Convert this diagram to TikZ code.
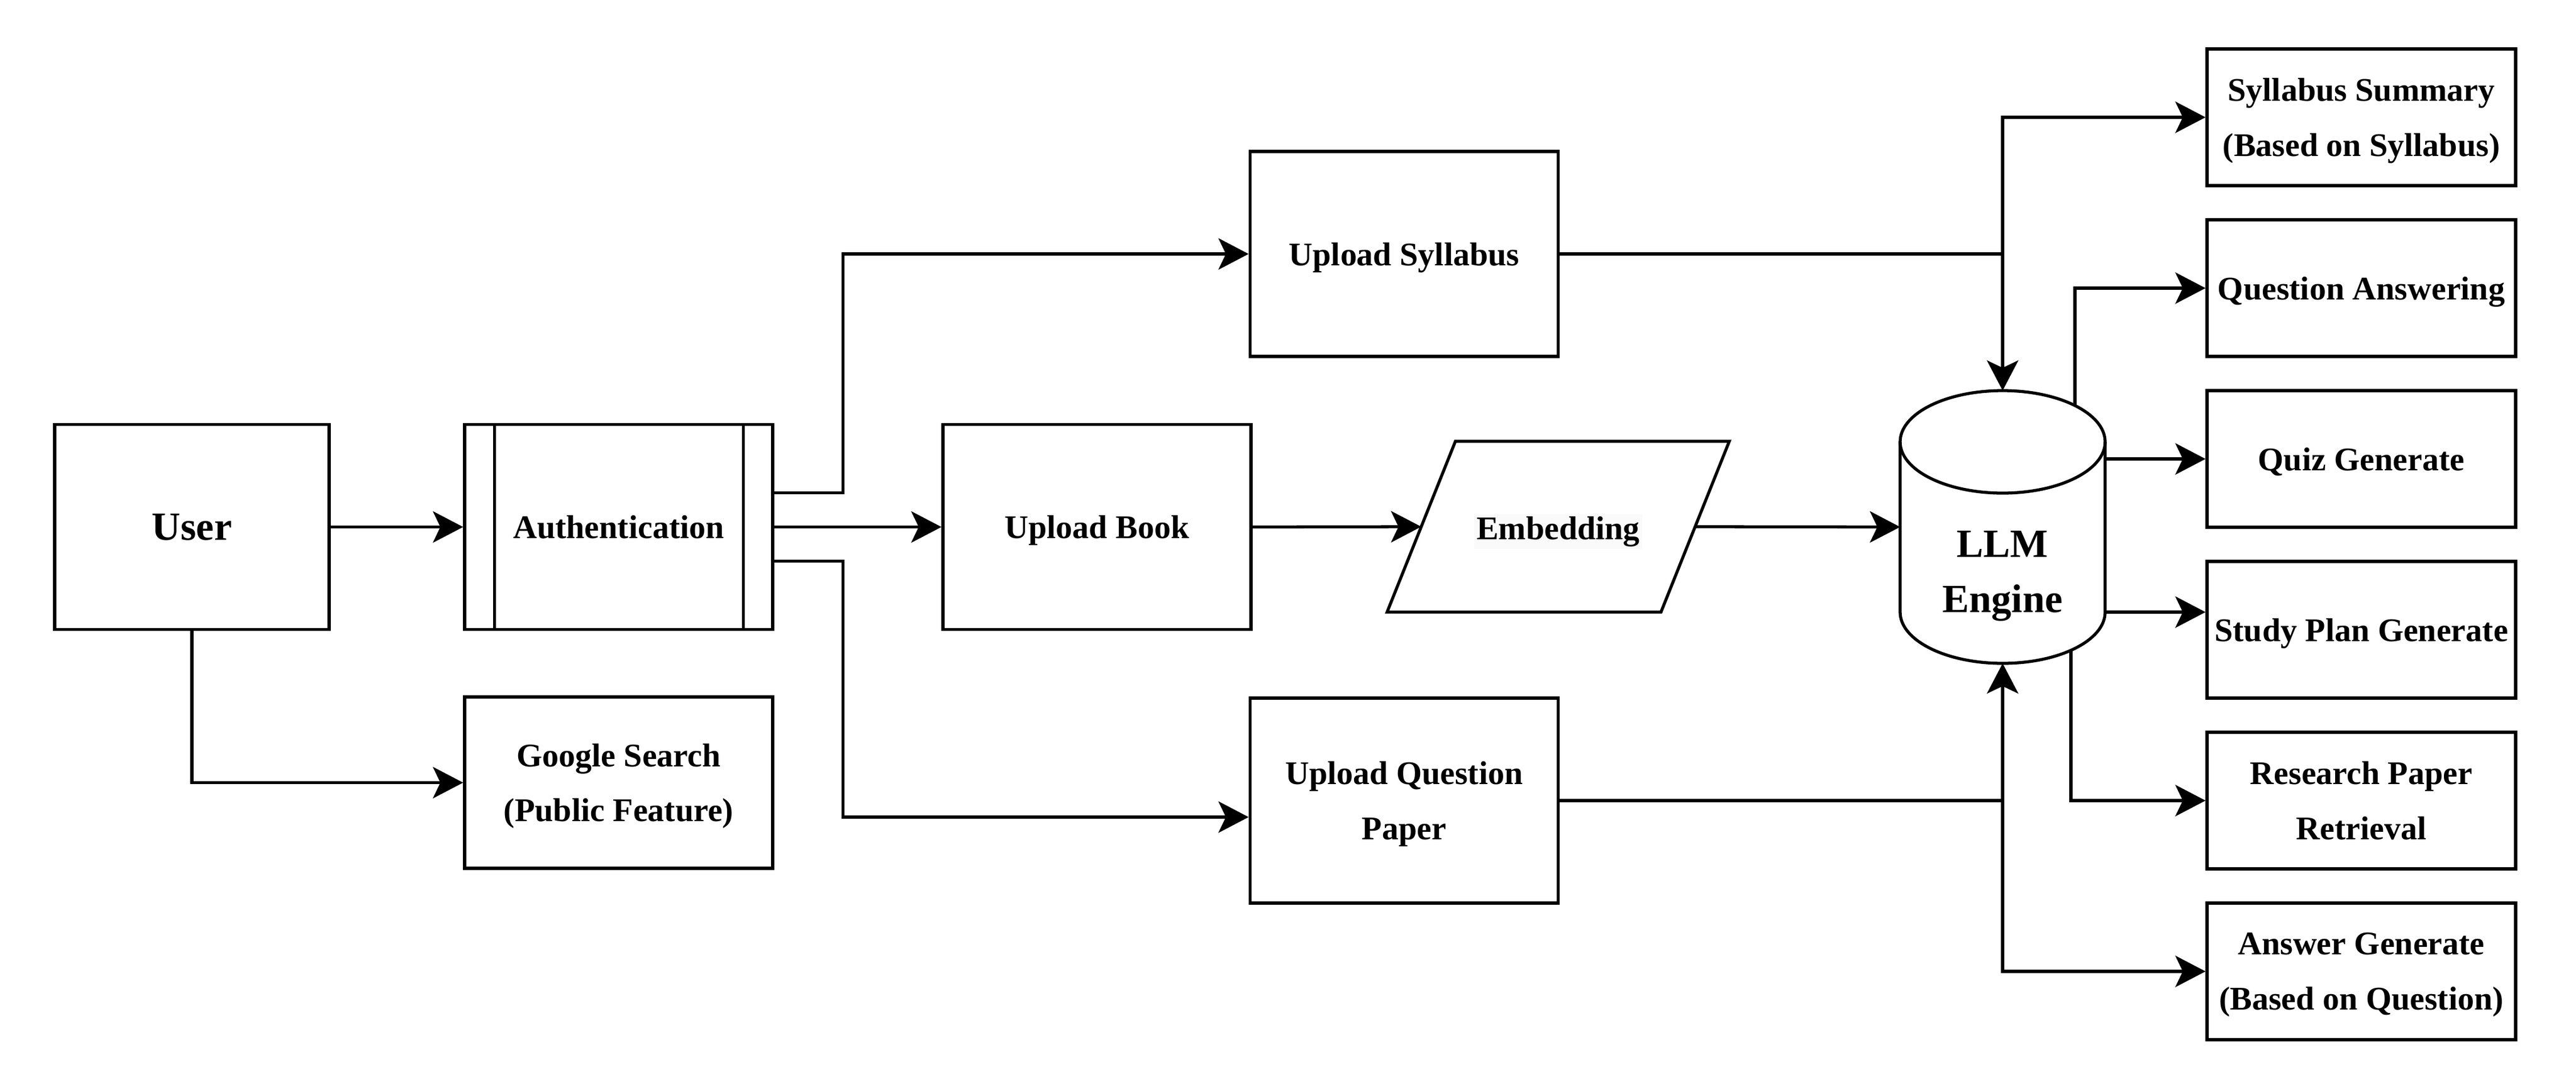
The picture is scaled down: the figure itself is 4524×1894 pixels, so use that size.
\documentclass[tikz,border=0pt]{standalone}
\usepackage{fontspec}
\setmainfont{Liberation Serif}
\usetikzlibrary{arrows.meta,calc}
\definecolor{embbg}{RGB}{250,250,250}
\newcommand\boxfont{\fontsize{16.5}{27.5}\selectfont\bfseries}
\newcommand\bigboxfont{\fontsize{20}{27.5}\selectfont\bfseries}
\tikzset{
  ln/.style={line width=1.5pt},
  arr/.style={ln, -{Stealth[length=5.3mm,width=5.5mm,inset=1.3mm]}},
  box/.style={draw, ln, fill=white, minimum width=54.1mm, minimum height=36mm,
              align=center, font=\boxfont, inner sep=0pt, text depth=0pt},
  outbox/.style={box, minimum width=54.2mm, minimum height=24mm},
  anchorbox/.style={draw=none, inner sep=0pt, outer sep=0pt, align=center}
}
\begin{document}
\begin{tikzpicture}[x=0.1mm,y=-0.1mm]
\useasboundingbox[fill=white] (0,0) rectangle (4524,1894);

% left part
\node[box, minimum width=48.2mm, font=\bigboxfont] (user) at (337,925.5) {User};
\node[box] (auth) at (1086.5,925.5) {Authentication};
\draw[ln] ([xshift=5.5mm]auth.north west) -- ([xshift=5.5mm]auth.south west);
\draw[ln] ([xshift=-5.4mm]auth.north east) -- ([xshift=-5.4mm]auth.south east);
\node[box, minimum height=30.1mm] (google) at (1086.5,1374.5) {Google Search\\(Public Feature)};

% uploads
\node[box] (book) at (1926.5,925.5) {Upload Book};
\node[box] (syl) at (2466,446) {Upload Syllabus};
\node[box] (qp) at (2466,1406) {Upload Question\\Paper};

% embedding parallelogram
\node[anchorbox, minimum width=48.1mm, minimum height=30mm, font=\boxfont, text depth=0pt] (emb) at (2736.5,925)
  {\setlength{\fboxsep}{1.2pt}\colorbox{embbg}{Embedding}};
\draw[ln] ([xshift=6mm]emb.north west) -- ([xshift=6mm]emb.north east)
  -- ([xshift=-6mm]emb.south east) -- ([xshift=-6mm]emb.south west) -- cycle;

% LLM cylinder
\node[anchorbox, minimum width=36mm, minimum height=47.9mm] (llm) at (3517,925.5) {};
\draw[ln, fill=white] ([yshift=-9mm]llm.north west) -- ([yshift=9mm]llm.south west)
  arc[start angle=180, end angle=360, x radius=18mm, y radius=9mm]
  -- ([yshift=-9mm]llm.north east);
\draw[ln] ([yshift=-9mm]llm.north) ellipse[x radius=18mm, y radius=9mm];
\node[anchorbox, font=\bigboxfont] (llmlabel) at (3517,1012) {LLM\\Engine};
\coordinate (llmqa) at (3644,712);
\coordinate (llmrp) at (3637,1142);
\coordinate (llmsp) at (3697,1075);

% outputs
\node[outbox] (sum)  at (4147,206)  {Syllabus Summary\\(Based on Syllabus)};
\node[outbox] (qa)   at (4147,506)  {Question Answering};
\node[outbox] (quiz) at (4147,806)  {Quiz Generate};
\node[outbox] (plan) at (4147,1106) {Study Plan Generate};
\node[outbox] (res)  at (4147,1406) {Research Paper\\Retrieval};
\node[outbox] (ans)  at (4147,1706) {Answer Generate\\(Based on Question)};

% connectors
\draw[arr] (user.east) -- (auth.west);
\draw[arr] (user.south) |- (google.west);
\draw[arr] (auth.east) -- (book.west);
\draw[arr] ([yshift=6mm]auth.east) -- ++(121,0) |- (syl.west);
\draw[arr] ([yshift=-6mm]auth.east) -- ++(121,0) |- ([yshift=-2.9mm]qp.west);
\draw[arr] (book.east) -- (emb.west);
\draw[arr] (emb.east) -- (llm.west);

\coordinate (jtop) at (syl.east -| llm.north);
\coordinate (jbot) at (qp.east -| llm.south);
\draw[ln] (syl.east) -- (jtop);
\draw[arr] (jtop) -- (llm.north);
\draw[arr] (jtop) |- (sum.west);
\draw[ln] (qp.east) -- (jbot);
\draw[arr] (jbot) -- (llm.south);
\draw[arr] (jbot) |- (ans.west);

\draw[arr] (llmqa) |- (qa.west);
\draw[arr] (llm.east |- quiz.west) -- (quiz.west);
\draw[arr] (llmsp) -- (llmsp -| plan.west);
\draw[arr] (llmrp) |- (res.west);
\end{tikzpicture}
\end{document}
